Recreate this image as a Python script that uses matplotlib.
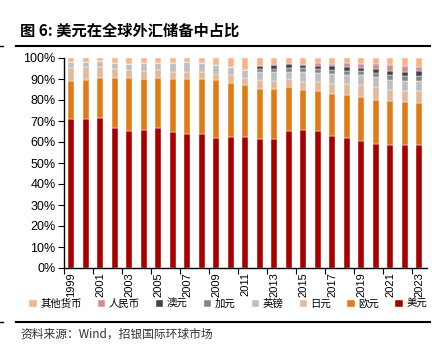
import numpy as np
import matplotlib.pyplot as plt
from matplotlib.lines import Line2D

plt.rcParams['font.family'] = ['Liberation Sans', 'Noto Sans CJK SC', 'DejaVu Sans']

years = list(range(1999, 2024))
usd = [71.0, 71.1, 71.5, 66.5, 65.4, 65.5, 66.5, 65.0, 63.9, 63.8, 62.0, 62.2, 62.6,
       61.3, 61.2, 65.1, 65.7, 65.4, 62.7, 61.8, 60.7, 58.9, 58.8, 58.4, 58.4]
eur = [17.9, 18.3, 19.2, 23.8, 25.0, 24.7, 24.0, 25.0, 26.1, 26.2, 27.6, 26.0, 24.4,
       24.1, 24.2, 21.2, 19.1, 19.1, 20.2, 20.7, 20.6, 21.3, 20.6, 20.5, 20.0]
jpy = [6.4, 6.1, 5.0, 4.4, 3.9, 3.8, 3.6, 3.1, 3.2, 3.5, 2.9, 3.7, 3.6,
       4.1, 3.8, 3.5, 3.8, 4.0, 4.9, 5.2, 5.9, 6.0, 5.5, 5.5, 5.7]
gbp = [2.9, 2.8, 2.7, 2.9, 2.9, 3.4, 3.6, 4.5, 4.8, 4.2, 4.3, 3.9, 3.8,
       4.0, 4.0, 3.7, 4.7, 4.3, 4.5, 4.4, 4.6, 4.7, 4.8, 4.6, 4.8]
cad = [0, 0, 0, 0, 0, 0, 0, 0, 0, 0, 0, 0, 0,
       1.4, 1.8, 1.9, 1.8, 1.9, 2.0, 1.8, 1.9, 2.1, 2.4, 2.4, 2.6]
aud = [0, 0, 0, 0, 0, 0, 0, 0, 0, 0, 0, 0, 0,
       1.5, 1.8, 1.6, 1.8, 1.7, 1.8, 1.6, 1.7, 1.8, 1.8, 2.0, 2.1]
rmb = [0, 0, 0, 0, 0, 0, 0, 0, 0, 0, 0, 0, 0,
       0, 0, 0, 0, 1.1, 1.2, 1.9, 1.9, 2.3, 2.8, 2.6, 2.3]
other = [1.8, 1.7, 1.6, 2.4, 2.8, 2.6, 2.3, 2.4, 2.0, 2.3, 3.2, 4.2, 5.6,
         3.6, 3.2, 3.0, 3.1, 2.5, 2.7, 2.6, 2.7, 2.9, 3.3, 4.0, 4.1]

series = [('美元', usd, '#A80000'), ('欧元', eur, '#E07C18'), ('日元', jpy, '#E3B99A'),
          ('英镑', gbp, '#BFBFBF'), ('加元', cad, '#858585'), ('澳元', aud, '#434343'),
          ('人民币', rmb, '#D68A8A'), ('其他货币', other, '#F9B38A')]

fig = plt.figure(figsize=(4.32, 3.51), dpi=100)
ax = fig.add_axes([64 / 432, 1 - 268 / 351, (426.5 - 64) / 432, 210 / 351])

x = np.arange(len(years))
bottom = np.zeros(len(years))
for name, vals, col in series:
    v = np.array(vals)
    ax.bar(x, v, 0.4, bottom=bottom, color=col, label=name, edgecolor='white', linewidth=0.3)
    bottom += v

ax.set_xlim(-0.5, len(years) - 0.5)
ax.set_ylim(0, 100)
ax.set_yticks(np.arange(0, 101, 10))
ax.set_yticklabels([f'{t}%' for t in range(0, 101, 10)], fontsize=9)
ax.set_xticks(x[::2])
ax.set_xticklabels([str(y) for y in years[::2]], rotation=90, fontsize=8)
ax.set_xticks(np.arange(-0.5, len(years), 2), minor=True)
ax.tick_params(axis='x', which='major', length=0, pad=3)
ax.tick_params(axis='x', which='minor', length=4, width=0.8)
ax.tick_params(axis='y', length=4, width=0.8, pad=2)
for s in ['top', 'right']:
    ax.spines[s].set_visible(False)
for s in ['left', 'bottom']:
    ax.spines[s].set_linewidth(1.0)

handles, labels = ax.get_legend_handles_labels()
fig.legend(handles[::-1], labels[::-1], loc='center', bbox_to_anchor=(0.528, 1 - 304 / 351),
           ncol=8, frameon=False, handlelength=0.7, handleheight=0.7,
           handletextpad=0.35, columnspacing=1.55,
           prop={'family': ['Noto Sans CJK SC'], 'size': 7.5})

fig.text(20 / 432, 1 - 31 / 351, '图 6: 美元在全球外汇储备中占比', fontsize=11, fontweight='bold',
         va='center', family=['Noto Sans CJK SC'])
fig.add_artist(Line2D([16 / 432, 430 / 432], [1 - 46 / 351] * 2, color='black', lw=1.5))
fig.add_artist(Line2D([0, 3 / 432], [1 - 46 / 351] * 2, color='black', lw=1))
fig.add_artist(Line2D([16 / 432, 430 / 432], [1 - 322 / 351] * 2, color='black', lw=1.5))
fig.add_artist(Line2D([0, 3 / 432], [1 - 322 / 351] * 2, color='black', lw=1))
fig.text(20 / 432, 1 - 334 / 351, '资料来源：Wind，招银国际环球市场', fontsize=8.5, va='center',
         family=['Noto Sans CJK SC', 'Liberation Sans'], color='#333333')

fig.savefig('out.png', dpi=100)
